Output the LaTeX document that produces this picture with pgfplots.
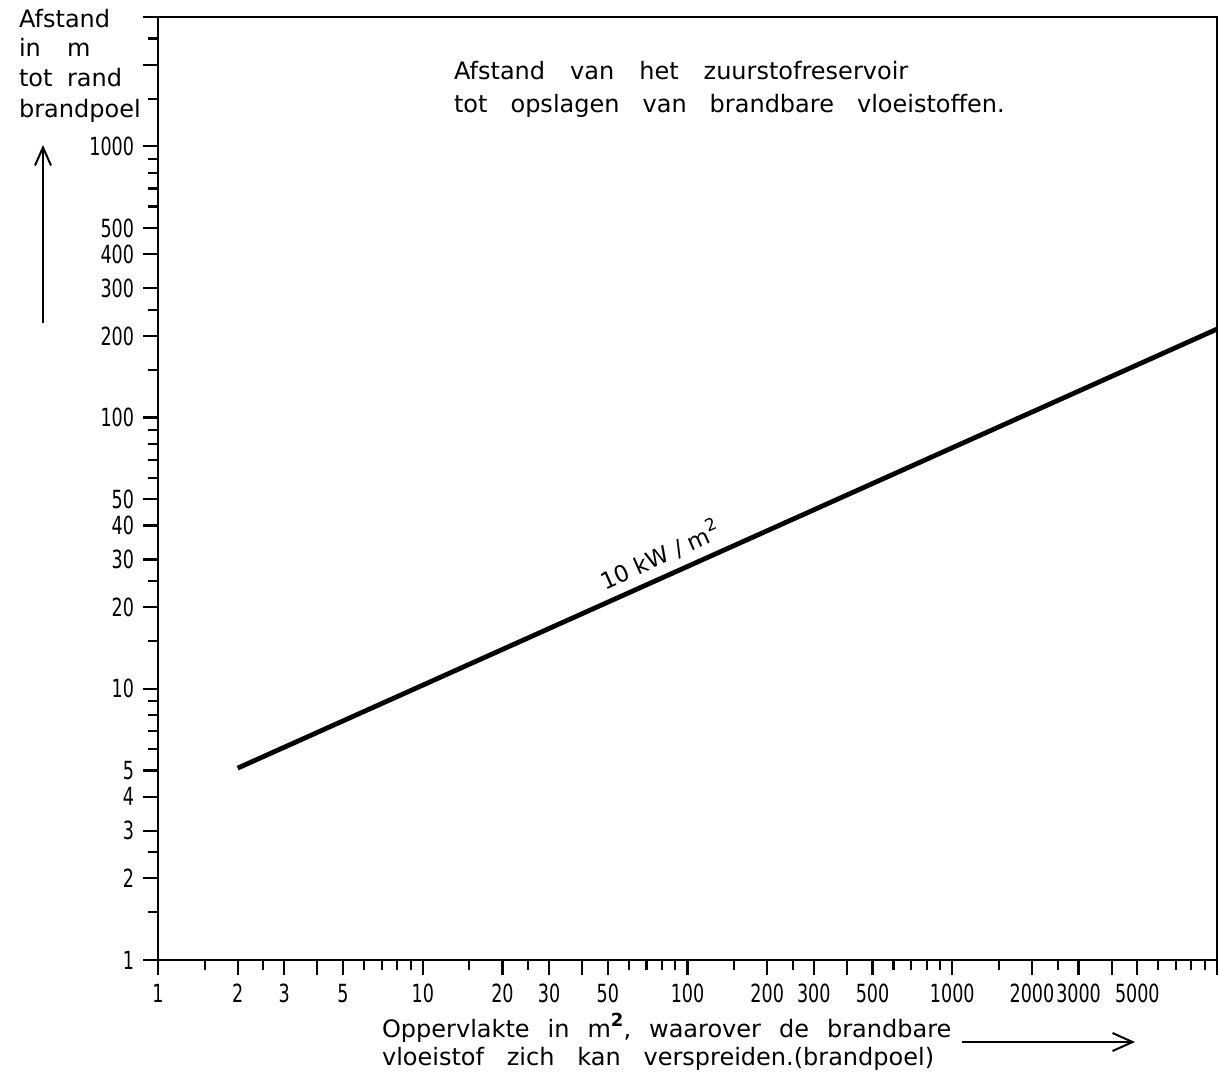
\documentclass[border=0pt]{standalone}
\usepackage{fontspec}
\setmainfont{DejaVu Sans}
\newfontfamily\tickfont[FakeStretch=0.78]{DejaVu Sans Condensed}
\usepackage{pgfplots}
\pgfplotsset{compat=1.18}
\usetikzlibrary{arrows.meta}

\begin{document}
\begin{tikzpicture}[x=1pt,y=1pt]
\begin{loglogaxis}[
    at={(0,0)}, anchor=south west,
    scale only axis,
    width=529.5pt, height=471.5pt,
    xmin=1, xmax=10000,
    ymin=1, ymax=3000,
    axis line style={line width=1.2pt},
    tick align=outside,
    tick pos=left,
    major tick length=7.5pt,
    minor tick length=5pt,
    every tick/.style={black, line width=1.1pt},
    xtick={1,2,3,4,5,10,20,30,40,50,100,200,300,400,500,1000,2000,3000,4000,5000,10000},
    xticklabels={1,2,3,,5,10,20,30,,50,100,200,300,,500,1000,2000,3000,,5000,},
    minor xtick={1.5,2.5,6,7,8,9,15,25,60,70,80,90,150,250,600,700,800,900,1500,2500,6000,7000,8000,9000},
    ytick={1,2,3,4,5,10,20,30,40,50,100,200,300,400,500,1000,2000,3000},
    yticklabels={1,2,3,4,5,10,20,30,40,50,100,200,300,400,500,1000,,},
    minor ytick={1.5,2.5,6,7,8,9,15,25,60,70,80,90,150,250,600,700,800,900,1500,2500},
    tick label style={font=\tickfont\fontsize{12.5}{14}\selectfont},
    yticklabel style={xshift=-1pt},
    xticklabel style={yshift=-1pt},
    clip=false,
]
\addplot[black, line width=2.4pt] coordinates {(2,5.1) (10000,212)}
    node[pos=0.44, sloped, above=0.5pt, font=\fontsize{11.5}{13}\selectfont]
    {10 kW / m\raisebox{0.45em}{\fontsize{8.5}{9}\selectfont 2}};
\end{loglogaxis}

% labels around the axis (1pt = 2px of the reference)
\node[anchor=base west, font=\fontsize{12}{14}\selectfont] at (-73,466) {Afstand};
\node[anchor=base west, font=\fontsize{12}{14}\selectfont] at (-73,451.5) {in};
\node[anchor=base west, font=\fontsize{12}{14}\selectfont] at (-49,451.5) {m};
\node[anchor=base west, font=\fontsize{12}{14}\selectfont] at (-73,436.5) {tot};
\node[anchor=base west, font=\fontsize{12}{14}\selectfont] at (-49,436.5) {rand};
\node[anchor=base west, font=\fontsize{12}{14}\selectfont] at (-73,421) {brandpoel};
\draw[line width=1pt, -{Straight Barb[length=9pt,width=8pt]}] (-57.5,318.5) -- (-57.5,407.5);

\node[anchor=base west, font=\fontsize{12}{14}\selectfont] at (144.5,440)
    {\spaceskip=12.5pt Afstand van het zuurstofreservoir};
\node[anchor=base west, font=\fontsize{12}{14}\selectfont] at (144.5,423.5)
    {\spaceskip=11.5pt tot opslagen van brandbare vloeistoffen.};

\node[anchor=base west, font=\fontsize{12}{14}\selectfont] at (108.5,-38.5)
    {\spaceskip=9pt Oppervlakte in m\raisebox{0.45em}{\fontsize{9}{9}\selectfont\bfseries 2}, waarover de brandbare};
\node[anchor=base west, font=\fontsize{12}{14}\selectfont] at (108.5,-52.5)
    {\spaceskip=11.4pt vloeistof zich kan verspreiden.(brandpoel)};
\draw[line width=1pt, -{Straight Barb[length=10pt,width=9pt]}] (402,-41) -- (488.5,-41);

\pgfresetboundingbox
\useasboundingbox (-79,-56) rectangle (530,480);
\end{tikzpicture}
\end{document}
